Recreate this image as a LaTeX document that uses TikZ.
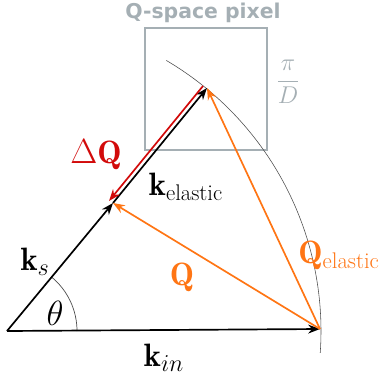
\documentclass[tikz,border=0pt]{standalone}
\usepackage{amsmath,amssymb}
\usepackage{fontspec}
\newfontfamily\labelsans{DejaVu Sans}
\usetikzlibrary{arrows.meta}

\definecolor{qorange}{RGB}{255,117,20}
\definecolor{dqred}{RGB}{210,10,10}
\definecolor{pixgray}{RGB}{165,175,180}

\begin{document}
\begin{tikzpicture}[
    x=0.025cm, y=-0.025cm,
    >=Stealth,
    vec/.style={->, line width=1.2pt, black},
    qvec/.style={->, line width=1.2pt, qorange},
    dqvec/.style={->, line width=1.2pt, dqred},
    shell/.style={black!70, line width=0.4pt},
    pixbox/.style={draw=pixgray, line width=1.3pt},
    biglabel/.style={font=\fontsize{23}{26}\selectfont}
]
    \useasboundingbox (0,0) rectangle (384,378);

    % points of the scattering triangle
    \coordinate (O) at (7,331);
    \coordinate (Kin) at (320,329);
    \coordinate (Ks) at (113,203);
    \coordinate (Kel) at (207,88);

    % Q-space pixel
    \node[pixbox, minimum width=122*0.025cm, minimum height=122*0.025cm, inner sep=0pt] (pix) at (206,89) {};
    \node[pixgray, font=\labelsans\bfseries\fontsize{14.5}{17}\selectfont] (pixlabel) at (203,13) {Q-space pixel};
    \node[pixgray, font=\fontsize{19}{22}\selectfont] (pixsize) at (288,82) {$\dfrac{\pi}{D}$};

    % elastic shell
    \draw[shell] (O) ++(-59.5:314) arc[start angle=-59.5, end angle=4, radius=314];

    % angle
    \draw[black!70, line width=0.5pt] (O) ++(70,0) arc[start angle=0, end angle=-50.5, radius=70];
    \node[biglabel] (theta) at (55,313) {$\theta$};

    % wave vectors
    \draw[vec] (O) -- (Kin);
    \draw[vec] (O) -- (Ks);
    \draw[vec] (Ks) -- (Kel);
    \draw[dqvec] ([shift={(-4,-2)}]Kel) -- ([shift={(-4,-2)}]Ks);
    \draw[qvec] (Kin) -- (Ks);
    \draw[qvec] (Kin) -- (Kel);

    \node[biglabel] (kinlabel) at (164,358) {$\mathbf{k}_{in}$};
    \node[biglabel] (kslabel) at (35,262) {$\mathbf{k}_{s}$};
    \node[biglabel] (kellabel) at (186,187) {$\mathbf{k}_{\text{elastic}}$};
    \node[biglabel, dqred] (dqlabel) at (96,155) {$\Delta\mathbf{Q}$};
    \node[biglabel, qorange] (qlabel) at (182,277) {$\mathbf{Q}$};
    \node[biglabel, qorange] (qellabel) at (339,255) {$\mathbf{Q}_{\text{elastic}}$};
\end{tikzpicture}
\end{document}
